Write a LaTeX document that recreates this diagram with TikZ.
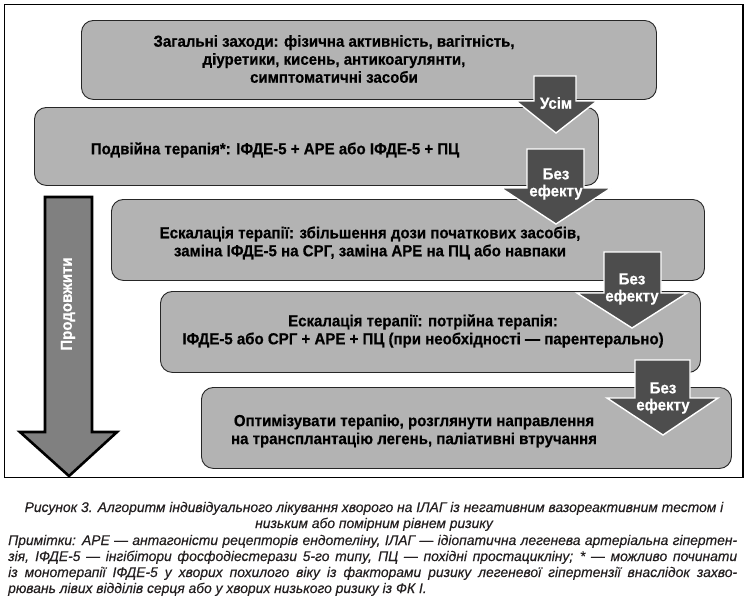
\documentclass[tikz,border=0pt]{standalone}
\usepackage{fontspec}
\setmainfont{Liberation Sans}
\newfontfamily\boxfont[BoldFont={Liberation Sans Bold}, BoldFeatures={FakeStretch=0.94, FakeBold=0.5}, FakeStretch=0.94]{Liberation Sans}
\newfontfamily\capfont[ItalicFont={Liberation Sans Italic}, ItalicFeatures={FakeStretch=0.99, FakeBold=0.3}, FakeStretch=0.99]{Liberation Sans}
\definecolor{boxgray}{HTML}{B3B3B3}
\definecolor{arrgray}{HTML}{4D4D4D}
\definecolor{biggray}{HTML}{808080}
\definecolor{captext}{HTML}{231F20}
\tikzset{
  stepbox/.style={draw=black!85, line width=0.9, fill=boxgray, rounded corners=12, inner sep=0pt},
  steptext/.style={font=\boxfont\bfseries\fontsize{16}{18}\selectfont, align=center, inner sep=0pt, text=black},
  smallarrow/.style={fill=arrgray, draw=white, line width=1.4, line join=miter},
  arrlabel/.style={font=\boxfont\bfseries\fontsize{16}{17}\selectfont, text=white, align=center, inner sep=0pt},
  bigarrow/.style={fill=biggray, draw=black, line width=2.6, line join=miter},
  captxt/.style={font=\capfont\itshape\fontsize{14}{16}\selectfont, text=captext, inner sep=0pt, anchor=base}
}
\begin{document}
\begin{tikzpicture}[x=1pt,y=-1pt]
\useasboundingbox (0,0) rectangle (749,603);
\fill[white] (0,0) rectangle (749,603);
\draw[line width=1.2] (4.5,4.5) rectangle (743,477.5);

% boxes
\node[stepbox, anchor=north west, minimum width=575, minimum height=79] (b1) at (81,20) {};
\node[stepbox, anchor=north west, minimum width=564, minimum height=78] (b2) at (34,107) {};
\node[stepbox, anchor=north west, minimum width=593, minimum height=81] (b3) at (111,199) {};
\node[stepbox, anchor=north west, minimum width=540, minimum height=81] (b4) at (160,291) {};
\node[stepbox, anchor=north west, minimum width=530, minimum height=81] (b5) at (201,387) {};

% texts
\node[steptext] (t1) at (334,59) {Загальні заходи: фізична активність, вагітність,\\діуретики, кисень, антикоагулянти,\\симптоматичні засоби};
\node[steptext] (t2) at (275,150) {Подвійна терапія*: ІФДЕ-5 + АРЕ або ІФДЕ-5 + ПЦ};
\node[steptext] (t3) at (370,243) {Ескалація терапії: збільшення дози початкових засобів,\\заміна ІФДЕ-5 на СРГ, заміна АРЕ на ПЦ або навпаки};
\node[steptext] (t4) at (423,331) {Ескалація терапії: потрійна терапія:\\ІФДЕ-5 або СРГ + АРЕ + ПЦ (при необхідності — парентерально)};
\node[steptext] (t5) at (414,431) {Оптимізувати терапію, розглянути направлення\\на трансплантацію легень, паліативні втручання};

% small arrows
\draw[smallarrow] (534,76) -- (576,76) -- (576,101) -- (597,101) -- (556,133) -- (516,101) -- (534,101) -- cycle;
\node[arrlabel] (l1) at (556,103) {Усім};
\draw[smallarrow] (527,149) -- (584,149) -- (584,188) -- (611,188) -- (556,224) -- (501,188) -- (527,188) -- cycle;
\node[arrlabel] (l2) at (556,184) {Без\\ефекту};
\draw[smallarrow] (604,252) -- (661,252) -- (661,293) -- (687,293) -- (632,328) -- (577,293) -- (604,293) -- cycle;
\node[arrlabel] (l3) at (632,289) {Без\\ефекту};
\draw[smallarrow] (635,360) -- (690,360) -- (690,398) -- (718,398) -- (663,435) -- (607,398) -- (635,398) -- cycle;
\node[arrlabel] (l4) at (663,398) {Без\\ефекту};

% big arrow
\draw[bigarrow] (45,197) -- (92,197) -- (92,432) -- (117,432) -- (69,476) -- (20,432) -- (45,432) -- cycle;
\node[arrlabel, rotate=90] (lp) at (68,304) {Продовжити};

% caption
\node[captxt] (cap1) at (374,512) {Рисунок 3. Алгоритм індивідуального лікування хворого на ІЛАГ із негативним вазореактивним тестом і};
\node[captxt] (cap2) at (374,528) {низьким або помірним рівнем ризику};
\node[captxt, anchor=base west] (n1) at (8,545) {\makebox[729pt][s]{Примітки: АРЕ — антагоністи рецепторів ендотеліну, ІЛАГ — ідіопатична легенева артеріальна гіпертен-}};
\node[captxt, anchor=base west] (n2) at (8,561) {\makebox[729pt][s]{зія, ІФДЕ-5 — інгібітори фосфодіестерази 5-го типу, ПЦ — похідні простацикліну; * — можливо починати}};
\node[captxt, anchor=base west] (n3) at (8,577) {\makebox[729pt][s]{із монотерапії ІФДЕ-5 у хворих похилого віку із факторами ризику легеневої гіпертензії внаслідок захво-}};
\node[captxt, anchor=base west] (n4) at (8,593) {рювань лівих відділів серця або у хворих низького ризику із ФК І.};
\end{tikzpicture}
\end{document}
